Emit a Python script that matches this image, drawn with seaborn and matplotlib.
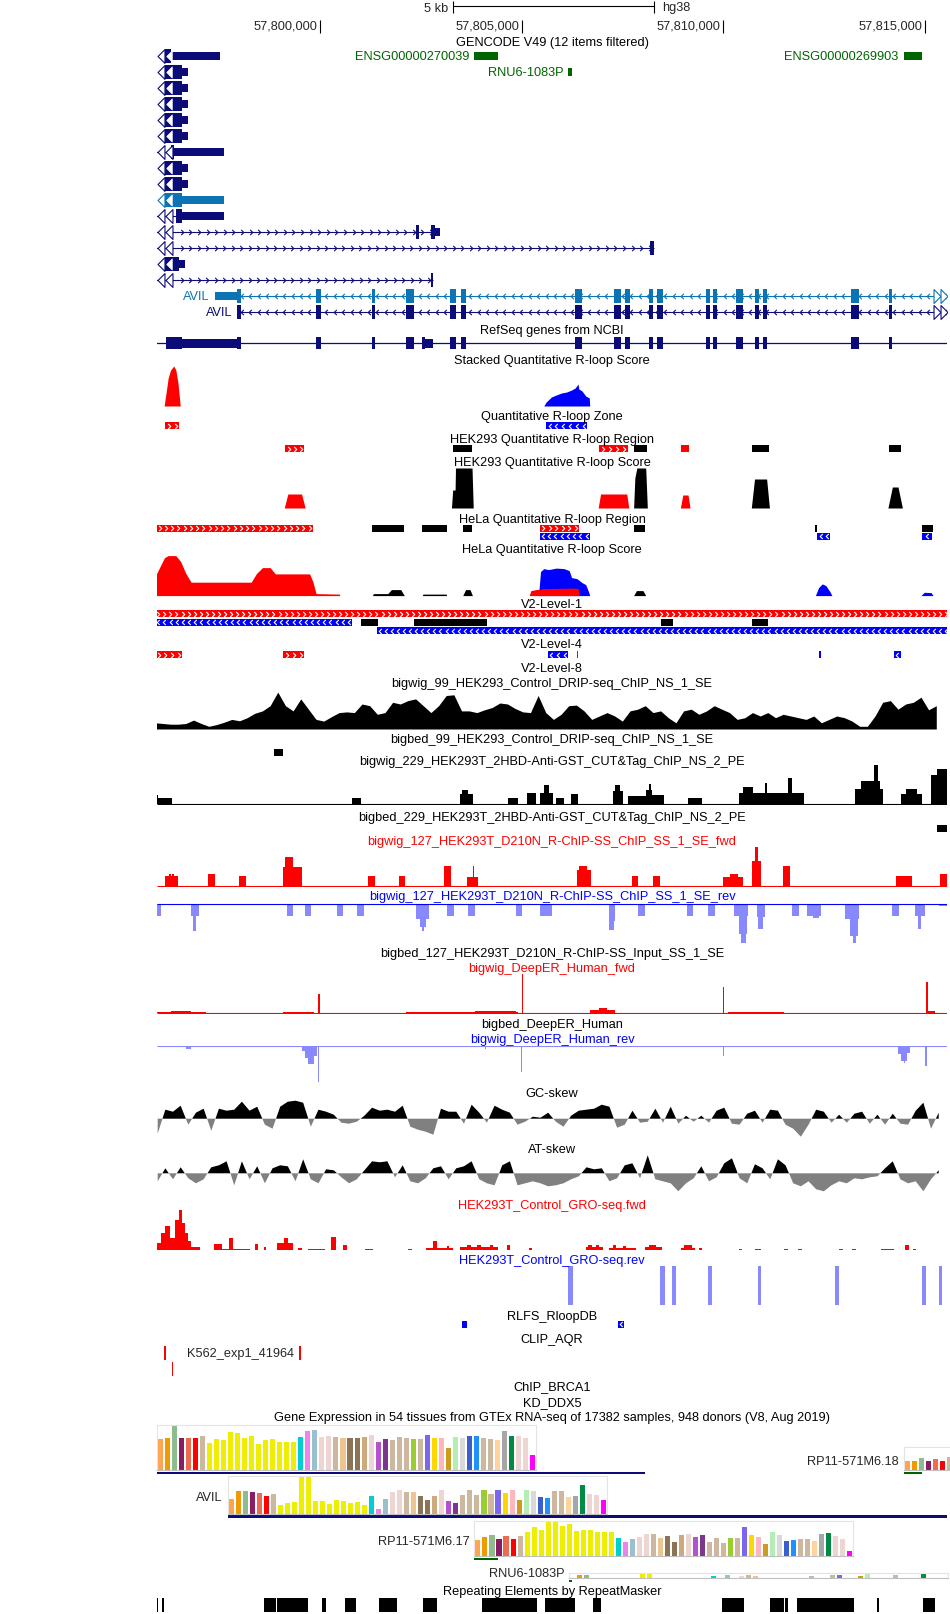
import numpy as np
import matplotlib
matplotlib.use("Agg")
import matplotlib.pyplot as plt
from matplotlib import font_manager
from matplotlib.path import Path
from matplotlib.transforms import blended_transform_factory
import seaborn as sns

# ---------------- browser window (kb on chr12, hg38) ----------------
WIN_START, WIN_END = 57795.943, 57815.546
ruler_ticks = [57800, 57805, 57810, 57815]
scalebar_start, scalebar_kb = 57803.28, 5

# ---------------- GENCODE V49 ----------------
avil_exons = [(57797.94, 57798.02), (57799.90, 57800.02), (57801.29, 57801.35),
              (57802.12, 57802.33), (57803.21, 57803.35), (57803.48, 57803.62),
              (57806.32, 57806.48), (57807.28, 57807.45), (57807.56, 57807.68),
              (57808.15, 57808.25), (57808.35, 57808.49), (57809.56, 57809.66),
              (57809.75, 57809.85), (57810.30, 57810.49), (57810.77, 57810.88),
              (57810.97, 57811.09), (57813.16, 57813.36), (57814.11, 57814.18)]
gencode_thick = [
    [(57796.14, 57796.30)], [(57796.14, 57796.56)], [(57796.14, 57796.56)],
    [(57796.14, 57796.56)], [(57796.14, 57796.56)], [(57796.14, 57796.56)],
    [(57796.30, 57796.36)], [(57796.14, 57796.56)], [(57796.14, 57796.56)],
    [(57796.14, 57796.56)], [(57796.41, 57796.56)],
    [(57802.37, 57802.45), (57802.75, 57802.85)], [(57808.18, 57808.27)],
    [(57796.14, 57796.50)], [(57802.74, 57802.79)], avil_exons, avil_exons]
gencode_utr = [
    [(57796.30, 57797.50)], [(57796.56, 57796.72)], [(57796.56, 57796.72)],
    [(57796.56, 57796.72)], [(57796.56, 57796.72)], [(57796.56, 57796.72)],
    [(57796.36, 57797.61)], [(57796.56, 57796.72)], [(57796.56, 57796.72)],
    [(57796.56, 57797.61)], [(57796.56, 57797.61)], [(57802.85, 57802.96)], [],
    [(57796.50, 57796.63)], [], [(57797.38, 57797.94)], []]
gencode_intron = [None, None, None, None, None, None, (57795.90, 57796.30), None, None,
                  None, (57795.90, 57796.41), (57795.90, 57802.85), (57795.90, 57808.27),
                  None, (57795.90, 57802.79), (57797.94, 57815.60), (57797.94, 57815.60)]
gencode_strand = ["-", "-", "-", "-", "-", "-", "-", "-", "-", "-", "-",
                  "+", "+", "-", "+", "-", "-"]
gencode_light = [False] * 9 + [True] + [False] * 5 + [True, False]
gencode_edge_thick = [True, True, True, True, True, True, False, True, True, True,
                      False, False, False, True, False]
gencode_named = [(0, "ENSG00000270039", 57803.82, 57804.40),
                 (0, "ENSG00000269903", 57814.47, 57814.92),
                 (1, "RNU6-1083P", 57806.15, 57806.24)]
avil_label_starts = [(15, 57797.38), (16, 57797.94)]

# ---------------- RefSeq (dense) ----------------
refseq_thick = [(57796.16, 57796.56), (57802.52, 57802.60)] + avil_exons
refseq_utr = [(57796.56, 57797.99), (57802.60, 57802.80)]

# ---------------- R-loop tracks ----------------
stacked_red_x = [57796.12, 57796.16, 57796.22, 57796.28, 57796.36, 57796.41, 57796.46, 57796.51, 57796.52]
stacked_red_y = [0, 11, 28, 36, 40, 36, 24, 4, 0]
stacked_blue_x = [57805.54, 57805.60, 57805.73, 57805.85, 57805.98, 57806.11, 57806.23,
                  57806.32, 57806.39, 57806.41, 57806.49, 57806.58, 57806.67, 57806.68]
stacked_blue_y = [0, 4, 9, 11, 13, 14, 16, 18, 22, 17, 15, 10, 8, 0]

zone_feats = [(57796.15, 57796.50, "red", "+"), (57805.60, 57806.62, "blue", "-")]
hek_region = [(57799.13, 57799.59, "red", "+"), (57803.28, 57803.76, "black", "."),
              (57806.91, 57807.63, "red", "+"), (57807.77, 57808.09, "black", "."),
              (57808.94, 57809.15, "red", "."), (57810.71, 57811.13, "black", "."),
              (57814.11, 57814.41, "black", ".")]
hek_red_peaks = [([57799.10, 57799.19, 57799.53, 57799.62], [0, 14, 14, 0]),
                 ([57806.89, 57806.95, 57807.60, 57807.65], [0, 14, 14, 0]),
                 ([57808.93, 57808.99, 57809.12, 57809.17], [0, 13, 13, 0])]
hek_black_peaks = [([57803.25, 57803.28, 57803.34, 57803.35, 57803.76, 57803.79], [0, 18, 18, 40, 40, 0]),
                   ([57807.77, 57807.80, 57807.85, 57808.07, 57808.11], [0, 30, 40, 40, 0]),
                   ([57810.69, 57810.77, 57811.07, 57811.14], [0, 29, 29, 0]),
                   ([57814.08, 57814.19, 57814.33, 57814.44], [0, 21, 21, 0])]

hela_region_1 = [(57795.93, 57799.81, "red", "+"), (57801.29, 57802.08, "black", "."),
                 (57802.53, 57803.13, "black", "."), (57803.53, 57803.77, "black", "."),
                 (57805.44, 57806.42, "red", "+"), (57807.77, 57808.05, "black", "."),
                 (57812.28, 57812.32, "black", "."), (57814.92, 57815.20, "black", ".")]
hela_region_2 = [(57805.44, 57806.68, "blue", "-"), (57812.33, 57812.64, "blue", "-"),
                 (57814.93, 57815.17, "blue", "-")]
hela_red_x = [57795.93, 57796.03, 57796.13, 57796.22, 57796.41, 57796.53, 57796.66, 57796.79,
              57798.28, 57798.41, 57798.56, 57798.75, 57798.88, 57799.73, 57799.81, 57799.89,
              57800.47, 57800.48]
hela_red_y = [21.7, 30, 38, 40, 40, 34, 22, 13.4, 13.4, 22, 28, 28, 21.7, 21.7, 14, 2, 1.5, 0]
hela_blue_peaks = [([57805.41, 57805.46, 57805.54, 57805.66, 57805.85, 57806.04, 57806.17,
                     57806.23, 57806.36, 57806.49, 57806.58, 57806.65, 57806.68],
                    [0, 24, 27, 26, 27.5, 27, 25, 18, 17, 13, 11, 4, 0]),
                   ([57812.28, 57812.36, 57812.45, 57812.54, 57812.64, 57812.69], [0, 8, 11.7, 10, 4, 0]),
                   ([57814.90, 57814.98, 57815.15, 57815.20], [0, 3.3, 3, 0])]
hela_red_under = ([57805.18, 57805.22, 57805.35, 57805.54, 57806.30, 57806.40, 57806.42],
                  [0, 5, 6, 7, 7.5, 7, 0])
hela_black_peaks = [([57801.29, 57801.31, 57801.67, 57801.76, 57801.99, 57802.08], [0, 2, 2, 6, 6, 0]),
                    ([57802.53, 57802.54, 57803.12, 57803.13], [0, 1.5, 1.5, 0]),
                    ([57803.53, 57803.60, 57803.71, 57803.77], [0, 6, 6, 0]),
                    ([57807.77, 57807.84, 57808.00, 57808.07], [0, 5, 5, 0])]

v2_level1 = [[(57795.90, 57815.60, "red", "+")],
             [(57795.90, 57800.78, "blue", "-"), (57801.01, 57801.42, "black", "."),
              (57802.33, 57804.12, "black", "."), (57808.45, 57808.75, "black", "."),
              (57810.71, 57811.10, "black", ".")],
             [(57801.39, 57815.60, "blue", "-")]]
v2_level4 = [(57795.90, 57796.57, "red", "+"), (57799.07, 57799.60, "red", "+"),
             (57805.64, 57806.15, "blue", "-"), (57806.36, 57806.39, "red", "."),
             (57812.37, 57812.41, "blue", "."), (57814.22, 57814.41, "blue", "-")]

# ---------------- signal tracks ----------------
drip_start, drip_step = 57795.90, 0.19
drip_vals = [6.2, 5.5, 4.8, 4.8, 5.5, 8.9, 5.5, 2.7, 4.4, 6.8,
             9.6, 8.2, 11.3, 15.7, 18.1, 23.3, 36.9, 23.3, 18.1, 30.1,
             19.8, 9.6, 7.9, 12.3, 16.4, 17.1, 16.4, 25, 23.3, 14.7,
             16.4, 26.7, 25, 28.4, 30.1, 23.3, 16.4, 23.3, 33.5, 34.2,
             18.1, 18.1, 16.4, 19.2, 21.5, 26, 25, 20.5, 17.1, 16.4,
             33.5, 16.4, 9.6, 14.7, 23.3, 23.9, 18.1, 9.6, 13, 16.4,
             13, 7.9, 18.1, 19.8, 23.3, 16.4, 18.1, 11.3, 6.2, 18.1,
             19.8, 14.7, 18.1, 23.3, 19.8, 16.4, 9.6, 11.3, 16.4, 13,
             16.4, 11.3, 14.7, 13, 11.3, 9.6, 13, 6.2, 9.6, 13,
             11.3, 7.9, 2.7, 2.7, 13, 26.7, 28.4, 19.8, 25, 26.7,
             31.8, 19.2, 23.3]
bigbed99 = [(57798.85, 57799.07, "black", ".")]
cut_tag = [(57795.93, 57796.31, 6.8), (57795.93, 57795.98, 10), (57800.78, 57801.00, 6.8),
           (57803.45, 57803.79, 11), (57803.51, 57803.66, 14.4), (57804.65, 57804.90, 6.8),
           (57805.12, 57805.35, 12), (57805.45, 57805.77, 12), (57805.54, 57805.66, 19.5),
           (57805.85, 57806.04, 6.8), (57806.21, 57806.39, 11), (57807.25, 57807.50, 14),
           (57807.31, 57807.44, 19.5), (57807.63, 57808.07, 8.5), (57808.07, 57808.23, 15),
           (57808.14, 57808.20, 20.5), (57808.23, 57808.52, 9.2), (57809.13, 57809.47, 6.8),
           (57810.39, 57812.00, 12), (57810.48, 57810.74, 18), (57811.03, 57811.09, 22),
           (57811.60, 57811.70, 27), (57813.27, 57813.97, 16), (57813.42, 57813.88, 24),
           (57813.73, 57813.83, 40), (57814.41, 57814.92, 11), (57814.54, 57814.79, 15.4),
           (57815.15, 57815.60, 30), (57815.30, 57815.60, 36)]
bigbed229 = [(57815.30, 57815.60, "black", ".")]
rchip_fwd = [(57796.13, 57796.47, 10), (57796.24, 57796.28, 12.4), (57796.32, 57796.36, 12.4),
             (57797.21, 57797.38, 12.4), (57797.97, 57798.14, 10), (57799.07, 57799.55, 19),
             (57799.13, 57799.32, 29), (57799.21, 57799.23, 39), (57801.19, 57801.35, 10),
             (57801.95, 57802.09, 10), (57803.06, 57803.25, 20.7), (57803.64, 57803.91, 9),
             (57803.78, 57803.80, 20), (57806.36, 57806.70, 16), (57806.42, 57806.61, 20.7),
             (57807.72, 57807.88, 10), (57808.26, 57808.43, 10), (57809.98, 57810.48, 9),
             (57810.17, 57810.36, 12.4), (57810.71, 57810.94, 25), (57810.77, 57810.86, 39),
             (57811.47, 57811.65, 20.7), (57814.29, 57814.67, 10), (57815.36, 57815.56, 12.4)]
rchip_rev = [(57795.93, 57796.03, 12.4), (57796.79, 57796.98, 12.4), (57796.83, 57796.91, 27.4),
             (57799.16, 57799.32, 12.4), (57799.62, 57799.77, 13), (57800.40, 57800.57, 13),
             (57800.91, 57801.07, 13), (57802.37, 57802.68, 15.7), (57802.46, 57802.62, 24),
             (57802.52, 57802.57, 27.4), (57803.15, 57803.31, 13), (57803.67, 57803.84, 13),
             (57804.84, 57804.99, 13), (57805.44, 57805.74, 12.4), (57805.56, 57805.58, 25),
             (57807.15, 57807.31, 17.4), (57807.16, 57807.28, 26.4), (57807.88, 57808.05, 13),
             (57809.10, 57809.25, 13), (57809.62, 57809.78, 13), (57810.27, 57810.61, 12.4),
             (57810.38, 57810.58, 30.8), (57810.44, 57810.56, 39.8), (57810.84, 57811.02, 14),
             (57810.86, 57810.99, 25.8), (57811.71, 57811.88, 13), (57812.07, 57812.42, 13),
             (57812.23, 57812.36, 15), (57813.02, 57813.37, 15.7), (57813.15, 57813.34, 32.4),
             (57813.21, 57813.30, 39.8), (57814.18, 57814.35, 13), (57814.76, 57815.01, 13),
             (57814.82, 57814.90, 25.8), (57815.35, 57815.60, 2.5)]
deeper_fwd = [(57795.90, 57797.17, 1), (57796.28, 57796.79, 2), (57799.07, 57799.83, 0.8),
              (57802.11, 57804.90, 0.8), (57803.83, 57804.84, 1.5), (57806.68, 57807.31, 2.5),
              (57806.90, 57807.10, 4.5), (57810.10, 57811.50, 0.8), (57815.08, 57815.25, 2),
              (57799.95, 57799.98, 19), (57804.99, 57805.02, 39), (57809.99, 57810.02, 26.8),
              (57815.03, 57815.07, 31.4)]
deeper_rev = [(57796.66, 57796.79, 2.7), (57799.55, 57799.62, 5), (57799.62, 57799.70, 12),
              (57799.70, 57799.85, 18.5), (57799.85, 57799.92, 10), (57799.94, 57799.97, 36.8),
              (57804.07, 57804.11, 3), (57804.97, 57805.00, 26), (57809.99, 57810.02, 10),
              (57814.33, 57814.40, 8), (57814.40, 57814.56, 15), (57814.47, 57814.51, 17),
              (57814.56, 57814.62, 7), (57815.01, 57815.04, 20)]
skew_start, skew_step = 57795.96, 0.19
gc_skew = [-15, 9, 7, 13, -6, 6, 10, -12, 10, 8,
           9, 17, 8, 12, -6, -10, 12, 17, 18, 16,
           -8, 9, 7, 4, -4, -5, -3, 3, 11, 8,
           9, 7, 13, -8, -11, -13, -16, 10, 7, 7,
           -5, 14, 6, -4, 13, 9, 6, -6, -3, 2,
           1, 6, -3, -8, 3, 8, 9, 10, 14, 12,
           -9, -6, 8, -4, -3, 10, -4, 12, -5, 3,
           -3, 3, -4, 8, 11, -5, -6, 5, 8, -4,
           9, 8, -6, -10, -18, -6, 9, 7, -4, 4,
           -4, 5, 7, -5, 4, -6, 5, -5, -6, 8,
           16, -10, 6]
at_skew = [-8, 5, -6, 6, -5, -10, -6, 6, 8, 12,
           -12, 12, -6, 7, -10, 5, 8, 7, -8, 14,
           -6, -10, 4, 3, -4, -10, -6, 3, 12, 11,
           12, -4, 8, -8, -10, -5, 5, 7, -6, 5,
           7, 12, -6, -10, -12, 8, 12, -12, -10, -8,
           -10, -13, -12, -10, -6, -3, 6, 4, 5, -8,
           -5, 8, 10, -5, 18, -6, -8, -10, -18, -10,
           -5, 7, -8, -4, 10, 15, -5, -10, 9, 5,
           -6, 14, 8, -10, -13, -8, -16, -18, -12, -8,
           -10, -5, -6, -4, -3, 5, 12, -6, -10, -8,
           -18, -6, 3]
gro_fwd = [(57795.93, 57796.03, 7.6), (57796.03, 57796.15, 17), (57796.15, 57796.26, 24),
           (57796.26, 57796.38, 12), (57796.38, 57796.48, 30), (57796.48, 57796.57, 40),
           (57796.57, 57796.64, 27), (57796.64, 57796.71, 17), (57796.71, 57796.79, 9),
           (57796.79, 57797.02, 3.5), (57797.36, 57797.55, 6), (57797.55, 57798.25, 1),
           (57797.74, 57797.84, 12.6), (57798.37, 57798.46, 6), (57798.61, 57798.66, 3),
           (57798.92, 57799.32, 7), (57799.10, 57799.20, 12.6), (57799.43, 57799.53, 2),
           (57799.70, 57800.11, 1.2), (57800.27, 57800.38, 13), (57800.57, 57800.67, 5.3),
           (57801.10, 57801.30, 1.7), (57802.18, 57802.27, 1.7), (57802.62, 57803.28, 2),
           (57802.80, 57802.89, 9), (57803.13, 57803.20, 4), (57803.45, 57804.40, 3),
           (57803.64, 57803.74, 5), (57803.89, 57803.99, 5), (57804.21, 57804.27, 5.5),
           (57804.62, 57804.70, 5), (57805.17, 57805.25, 2), (57806.58, 57807.00, 3),
           (57806.65, 57806.73, 5), (57806.84, 57806.92, 5.5), (57807.16, 57807.82, 2),
           (57807.25, 57807.33, 5), (57807.50, 57807.57, 4), (57808.05, 57808.48, 3),
           (57808.14, 57808.33, 5.3), (57808.94, 57809.29, 2), (57809.02, 57809.21, 5.3),
           (57809.38, 57809.46, 2), (57810.39, 57810.46, 1.7), (57810.77, 57810.94, 1.7),
           (57811.50, 57811.60, 1.7), (57811.85, 57811.95, 1.7), (57812.87, 57812.97, 1.7),
           (57813.20, 57813.30, 1.7), (57813.91, 57814.24, 1.7), (57814.50, 57814.60, 5),
           (57814.69, 57814.77, 1.7)]
gro_rev = [(57806.13, 57806.26, 39), (57808.42, 57808.54, 39), (57808.72, 57808.83, 39),
           (57809.62, 57809.72, 39), (57810.85, 57810.94, 39), (57812.76, 57812.87, 39),
           (57814.93, 57815.02, 39), (57815.35, 57815.43, 39)]
rlfs = [(57803.51, 57803.64, "blue", "-"), (57807.38, 57807.54, "blue", "-")]
clip_row1 = [(57796.12, 57796.16, "red", "."), (57799.46, 57799.51, "red", ".")]
clip_row2 = [(57796.31, 57796.34, "red", ".")]
repeats = [(57795.94, 57795.97), (57796.07, 57796.11), (57798.60, 57798.89), (57798.93, 57799.70),
           (57800.04, 57800.14), (57800.61, 57800.87), (57801.44, 57801.91), (57802.54, 57802.90),
           (57804.00, 57805.36), (57805.58, 57806.32), (57806.75, 57806.95), (57809.96, 57810.50),
           (57811.15, 57811.50), (57811.53, 57811.59), (57811.82, 57813.25), (57813.80, 57813.87),
           (57814.95, 57815.26)]

# ---------------- GTEx (V8) ----------------
tissues = ["Adipose - Subcutaneous", "Adipose - Visceral", "Adrenal Gland", "Artery - Aorta",
           "Artery - Coronary", "Artery - Tibial", "Bladder", "Brain - Amygdala",
           "Brain - Anterior cingulate cortex", "Brain - Caudate", "Brain - Cerebellar Hemisphere",
           "Brain - Cerebellum", "Brain - Cortex", "Brain - Frontal Cortex", "Brain - Hippocampus",
           "Brain - Hypothalamus", "Brain - Nucleus accumbens", "Brain - Putamen",
           "Brain - Spinal cord", "Brain - Substantia nigra", "Breast", "Cells - EBV lymphocytes",
           "Cells - Cultured fibroblasts", "Cervix - Ectocervix", "Cervix - Endocervix",
           "Colon - Sigmoid", "Colon - Transverse", "Esophagus - GE Junction", "Esophagus - Mucosa",
           "Esophagus - Muscularis", "Fallopian Tube", "Heart - Atrial Appendage",
           "Heart - Left Ventricle", "Kidney - Cortex", "Kidney - Medulla", "Liver", "Lung",
           "Minor Salivary Gland", "Muscle - Skeletal", "Nerve - Tibial", "Ovary", "Pancreas",
           "Pituitary", "Prostate", "Skin - Not Sun Exposed", "Skin - Sun Exposed",
           "Small Intestine", "Spleen", "Stomach", "Testis", "Thyroid", "Uterus", "Vagina",
           "Whole Blood"]
tissue_colors = ["#FFA54F", "#EE9A00", "#8FBC8F", "#8B1C62", "#EE6A50", "#FF0000", "#CDB79E",
                 "#EEEE00", "#EEEE00", "#EEEE00", "#EEEE00", "#EEEE00", "#EEEE00", "#EEEE00",
                 "#EEEE00", "#EEEE00", "#EEEE00", "#EEEE00", "#EEEE00", "#EEEE00", "#00CED1",
                 "#EE82EE", "#9AC0CD", "#EED5D2", "#EED5D2", "#CDB79E", "#EEC591", "#8B7355",
                 "#8B7355", "#CDAA7D", "#EED5D2", "#B452CD", "#7A378B", "#CDB79E", "#CDB79E",
                 "#CDB79E", "#9ACD32", "#CDB79E", "#7A67EE", "#FFD700", "#FFB6C1", "#CD9B1D",
                 "#B4EEB4", "#D9D9D9", "#3A5FCD", "#1E90FF", "#CDB79E", "#CDB79E", "#FFD39B",
                 "#A6A6A6", "#008B45", "#EED5D2", "#EED5D2", "#FF00FF"]
gtex_left = [31, 32, 45, 32, 32, 32, 34, 27, 31, 30, 38, 37, 32, 34, 26, 30, 31, 28, 28, 28,
             33, 39, 40, 33, 34, 33, 32, 32, 32, 33, 35, 28, 31, 30, 33, 32, 31, 31, 35, 32,
             32, 22, 33, 32, 34, 34, 32, 31, 30, 39, 34, 34, 32, 15]
gtex_avil = [15, 23, 23, 22, 21, 18, 20, 9, 11, 12, 37, 38, 13, 13, 10, 14, 13, 11, 12, 9,
             18, 5, 15, 22, 24, 22, 22, 18, 14, 18, 24, 13, 11, 19, 24, 19, 24, 20, 24, 21,
             24, 14, 24, 23, 17, 16, 23, 23, 17, 18, 29, 20, 19, 14]
gtex_rp17 = [16, 19, 21, 17, 20, 17, 20, 24, 29, 26, 35, 34, 30, 32, 25, 26, 26, 24, 24, 24,
             18, 14, 17, 19, 22, 22, 18, 20, 14, 21, 22, 19, 21, 14, 18, 13, 18, 18, 29, 21,
             19, 12, 24, 21, 15, 16, 17, 17, 15, 22, 23, 20, 17, 5]
gtex_rnu6 = [0, 3, 3, 0, 0, 0, 0, 0, 0, 0, 4, 4, 0, 0, 0, 0, 0, 0, 0, 0,
             2, 0, 3, 0, 2, 3, 2, 0, 0, 0, 0, 0, 0, 0, 2, 0, 0, 3, 3, 0,
             0, 2, 4.5, 0, 0, 0, 3, 0, 0, 0, 5, 0, 0, 0]
gtex_rp18 = [9, 9, 12, 9, 11, 9, 13]
gtex_names = ["", "RP11-571M6.18", "AVIL", "RP11-571M6.17", "RNU6-1083P"]
gtex_values = [gtex_left, gtex_rp18, gtex_avil, gtex_rp17, gtex_rnu6]
gtex_scale = [45.5, 23.5, 38, 35, 5.5]
gtex_gene_span = [(57795.50, 57808.05), (57814.47, 57814.92), (57797.70, 57815.60),
                  (57803.82, 57804.40), (57806.17, 57806.25)]
gtex_coding = [True, False, True, False, False]

# ---------------- style ----------------
sns.set_style("white")
_names = {f.name for f in font_manager.fontManager.ttflist}
if "Liberation Sans Narrow" in _names:
    FONT, FS = "Liberation Sans Narrow", 11
else:
    FONT, FS = "Liberation Sans", 9.2
plt.rcParams["font.family"] = [FONT, "DejaVu Sans"]
plt.rcParams["lines.solid_capstyle"] = "butt"

NAVY, LBLUE, GREEN = "#0c0c78", "#0c74b4", "#006400"
PALEBLUE, GRAY = "#8888ff", "#808080"

FW, FH = 950, 1615
DL, DR = 157, 947
CX = (DL + DR) / 2

CHEV_R = Path([(-0.5, 1.0), (0.5, 0.0), (-0.5, -1.0)], [Path.MOVETO, Path.LINETO, Path.LINETO])
CHEV_L = Path([(0.5, 1.0), (-0.5, 0.0), (0.5, -1.0)], [Path.MOVETO, Path.LINETO, Path.LINETO])
TRI_L = Path([(0.5, 1.0), (-0.5, 0.0), (0.5, -1.0), (0.5, 1.0)],
             [Path.MOVETO, Path.LINETO, Path.LINETO, Path.CLOSEPOLY])
TRI_R = Path([(-0.5, 1.0), (0.5, 0.0), (-0.5, -1.0), (-0.5, 1.0)],
             [Path.MOVETO, Path.LINETO, Path.LINETO, Path.CLOSEPOLY])

fig = plt.figure(figsize=(FW / 100, FH / 100), dpi=100)
fig.patch.set_facecolor("white")


def track(top, bottom, ylim=(0, 1)):
    ax = fig.add_axes([DL / FW, 1 - bottom / FH, (DR - DL) / FW, (bottom - top) / FH])
    ax.set_xlim(WIN_START, WIN_END)
    ax.set_ylim(*ylim)
    ax.axis("off")
    return ax


def title(y, text, color="black"):
    fig.text(CX / FW, 1 - y / FH, text, ha="center", va="center", fontsize=FS, color=color)


def chevrons(ax, start, end, y, strand, color, step, ms):
    n = int((end - start) / step)
    if n < 1 or strand not in "+-":
        return
    xs = start + (np.arange(n) + 0.5) * (end - start) / n
    ax.plot(xs, np.full(n, y), ls="none", marker=CHEV_R if strand == "+" else CHEV_L,
            ms=ms, mec=color, mfc="none", mew=0.8, zorder=4)


def bed_row(y, feats, h=7):
    ax = track(y - h / 2, y + h / 2)
    for start, end, color, strand in feats:
        ax.barh(0.5, end - start, left=start, height=1, color=color, linewidth=0)
        if end - start >= 0.1:
            chevrons(ax, start, end, 0.5, strand, "white", 0.15, 3.6)
    return ax


def area(ax, xs, ys, color):
    ax.fill_between(xs, ys, 0, color=color, linewidth=0)


def blocks(ax, data, color, down=False):
    s = np.array([d[0] for d in data])
    e = np.array([d[1] for d in data])
    h = np.array([d[2] for d in data])
    ax.bar(s, -h if down else h, width=e - s, align="edge", color=color, linewidth=0)


# ---------------- ruler ----------------
ax = track(0, 40, (40, 0))
ax.hlines(7, scalebar_start, scalebar_start + scalebar_kb, color="black", lw=0.8)
ax.vlines([scalebar_start, scalebar_start + scalebar_kb], 1.5, 13.5, color="black", lw=0.8)
ax.annotate("5 kb", (scalebar_start, 8.5), xytext=(-4, 0), textcoords="offset pixels",
            ha="right", va="center", fontsize=FS, annotation_clip=False)
ax.annotate("hg38", (scalebar_start + scalebar_kb, 8.5), xytext=(8, 0), textcoords="offset pixels",
            ha="left", va="center", fontsize=FS, annotation_clip=False)
ax.vlines(ruler_ticks, 20.5, 34, color="black", lw=0.8)
for t in ruler_ticks:
    ax.annotate(f"{t * 1000:,.0f}", (t, 26.5), xytext=(-3, 0), textcoords="offset pixels",
                ha="right", va="center", fontsize=FS, annotation_clip=False)
ax_ref = ax

# ---------------- GENCODE ----------------
title(43, "GENCODE V49 (12 items filtered)")
for i in range(17):
    y = 57 + 16.03 * i
    ax = track(y - 8, y + 8, (-8, 8))
    col = LBLUE if gencode_light[i] else NAVY
    if gencode_intron[i] is not None:
        a, b = gencode_intron[i]
        ax.hlines(0, a, b, color=col, lw=0.8)
        chevrons(ax, max(a, 57796.45), b, 0, gencode_strand[i], col, 0.21, 3.8)
    for a, b in gencode_utr[i]:
        ax.barh(0, b - a, left=a, height=8, color=col, linewidth=0, zorder=3)
    for a, b in gencode_thick[i]:
        ax.barh(0, b - a, left=a, height=14, color=col, linewidth=0, zorder=3)
    tr = blended_transform_factory(ax.transAxes, ax.transData)
    if i < 15:
        ax.plot([0.0055], [0], transform=tr, ls="none", marker=TRI_L, ms=10, mfc="white",
                mec=col, mew=0.8, zorder=5)
        if gencode_edge_thick[i]:
            ax.plot([0.0155], [0], transform=tr, ls="none", marker=TRI_L, ms=8, mfc="white",
                    mec="white", mew=0.5, zorder=5)
        else:
            ax.plot([0.0155], [0], transform=tr, ls="none", marker=TRI_L, ms=10, mfc="white",
                    mec=col, mew=0.8, zorder=5)
    else:
        for fx in (0.987, 0.996):
            ax.plot([fx], [0], transform=tr, ls="none", marker=TRI_R, ms=10, mfc="white",
                    mec=col, mew=0.8, zorder=5)
    for row, name, a, b in gencode_named:
        if row == i:
            ax.barh(0, b - a, left=a, height=8, color=GREEN, linewidth=0, zorder=3)
            ax.annotate(name, (a, 0), xytext=(-5, 0), textcoords="offset pixels", ha="right",
                        va="center", fontsize=FS, color=GREEN, annotation_clip=False)
    for row, a in avil_label_starts:
        if row == i:
            ax.annotate("AVIL", (a, 0), xytext=(-5, 0), textcoords="offset pixels", ha="right",
                        va="center", fontsize=FS, color=col, annotation_clip=False)

# ---------------- RefSeq ----------------
title(331, "RefSeq genes from NCBI")
ax = track(337, 351, (-7, 7))
ax.hlines(0, WIN_START - 1, WIN_END + 1, color=NAVY, lw=0.9)
for a, b in refseq_utr:
    ax.barh(0, b - a, left=a, height=9, color=NAVY, linewidth=0)
for a, b in refseq_thick:
    ax.barh(0, b - a, left=a, height=12, color=NAVY, linewidth=0)

# ---------------- R-loop score / region tracks ----------------
title(361, "Stacked Quantitative R-loop Score")
ax = track(367, 407, (0, 40))
area(ax, stacked_red_x, stacked_red_y, "red")
area(ax, stacked_blue_x, stacked_blue_y, "blue")

title(417, "Quantitative R-loop Zone")
bed_row(426.5, zone_feats)

title(440, "HEK293 Quantitative R-loop Region")
bed_row(449.5, hek_region)

title(463, "HEK293 Quantitative R-loop Score")
ax = track(469, 509, (0, 40))
for xs, ys in hek_red_peaks:
    area(ax, xs, ys, "red")
for xs, ys in hek_black_peaks:
    area(ax, xs, ys, "black")

title(519.5, "HeLa Quantitative R-loop Region")
bed_row(529, hela_region_1)
bed_row(537, hela_region_2)

title(550.5, "HeLa Quantitative R-loop Score")
ax = track(556.6, 596.6, (0, 40))
area(ax, hela_red_x, hela_red_y, "red")
for xs, ys in hela_blue_peaks:
    area(ax, xs, ys, "blue")
area(ax, *hela_red_under, "red")
for xs, ys in hela_black_peaks:
    area(ax, xs, ys, "black")

title(605, "V2-Level-1")
for y, feats in zip([614.5, 623, 631.5], v2_level1):
    bed_row(y, feats)
title(645.5, "V2-Level-4")
bed_row(655.5, v2_level4)
title(669.3, "V2-Level-8")

# ---------------- DRIP / CUT&Tag / R-ChIP ----------------
title(684, "bigwig_99_HEK293_Control_DRIP-seq_ChIP_NS_1_SE")
ax = track(690, 730, (0, 40))
area(ax, drip_start + drip_step * np.arange(len(drip_vals)), drip_vals, "black")
title(740, "bigbed_99_HEK293_Control_DRIP-seq_ChIP_NS_1_SE")
bed_row(753, bigbed99)

title(762.5, "bigwig_229_HEK293T_2HBD-Anti-GST_CUT&Tag_ChIP_NS_2_PE")
ax = track(766, 806, (-0.6, 40))
blocks(ax, cut_tag, "black")
ax.axhline(0, color="black", lw=0.8)
title(818.3, "bigbed_229_HEK293T_2HBD-Anti-GST_CUT&Tag_ChIP_NS_2_PE")
bed_row(829, bigbed229)

title(842, "bigwig_127_HEK293T_D210N_R-ChIP-SS_ChIP_SS_1_SE_fwd", "red")
ax = track(847.5, 887.5, (-0.6, 40))
blocks(ax, rchip_fwd, "red")
ax.axhline(0, color="red", lw=0.8)

title(897.5, "bigwig_127_HEK293T_D210N_R-ChIP-SS_ChIP_SS_1_SE_rev", "blue")
ax = track(904, 944, (-40, 0.6))
blocks(ax, rchip_rev, PALEBLUE, down=True)
ax.axhline(0, color="blue", lw=0.8)
title(954, "bigbed_127_HEK293T_D210N_R-ChIP-SS_Input_SS_1_SE")

title(969, "bigwig_DeepER_Human_fwd", "red")
ax = track(974.5, 1014.5, (-0.6, 40))
blocks(ax, deeper_fwd, "red")
ax.axhline(0, color="red", lw=0.8)
title(1025, "bigbed_DeepER_Human")
title(1040, "bigwig_DeepER_Human_rev", "blue")
ax = track(1046.5, 1086.5, (-40, 0.6))
blocks(ax, deeper_rev, PALEBLUE, down=True)
ax.axhline(0, color=PALEBLUE, lw=0.8)

# ---------------- skew ----------------
for y0, y, name, vals in [(1094.5, 1119.7, "GC-skew", gc_skew), (1150, 1174.3, "AT-skew", at_skew)]:
    title(y0, name)
    ax = track(y - 19, y + 19, (-19, 19))
    xs = skew_start + skew_step * np.arange(len(vals))
    v = np.array(vals, dtype=float)
    ax.fill_between(xs, v, 0, where=v >= 0, interpolate=True, color="black", linewidth=0)
    ax.fill_between(xs, v, 0, where=v <= 0, interpolate=True, color=GRAY, linewidth=0)

# ---------------- GRO-seq ----------------
title(1205.5, "HEK293T_Control_GRO-seq.fwd", "red")
ax = track(1211.4, 1251.4, (0, 40))
blocks(ax, gro_fwd, "red")
title(1261.5, "HEK293T_Control_GRO-seq.rev", "blue")
ax = track(1267, 1306, (-39, 0))
blocks(ax, gro_rev, PALEBLUE, down=True)

title(1317, "RLFS_RloopDB")
bed_row(1325, rlfs)
title(1340.5, "CLIP_AQR")
ax = bed_row(1354, clip_row1, h=14)
ax.annotate("K562_exp1_41964", (clip_row1[1][0], 0.5), xytext=(-5, 0), textcoords="offset pixels",
            ha="right", va="center", fontsize=FS, annotation_clip=False)
bed_row(1370, clip_row2, h=14)
title(1387.5, "ChIP_BRCA1")
title(1403, "KD_DDX5")

# ---------------- GTEx ----------------
title(1418.5, "Gene Expression in 54 tissues from GTEx RNA-seq of 17382 samples, 948 donors (V8, Aug 2019)")
gtex_bottom = [1471, 1471, 1514.5, 1557, 1579]
for name, vals, scale, (a, b), coding, bottom in zip(gtex_names, gtex_values, gtex_scale,
                                                     gtex_gene_span, gtex_coding, gtex_bottom):
    lc = NAVY if coding else GREEN
    lax = track(bottom + 1.5, bottom + 4, (0, 1))
    lax.barh(0.5, b - a, left=a, height=1, color=lc, linewidth=0)
    left_px = max(ax_ref.transData.transform((a, 0))[0], DL)
    gax = fig.add_axes([left_px / FW, 1 - bottom / FH, 379 / FW, scale / FH])
    n = len(vals)
    sns.barplot(x=tissues[:n], y=vals, hue=tissues[:n], order=tissues[:n], hue_order=tissues[:n],
                palette=tissue_colors[:n], legend=False, ax=gax, width=0.72, saturation=1,
                errorbar=None, linewidth=0)
    gax.set_xlim(-0.5, 53.5)
    gax.set_ylim(0, scale)
    gax.set(xticks=[], yticks=[], xlabel="", ylabel="")
    for sp in ("top", "left", "right"):
        gax.spines[sp].set_color("#e4e4e4")
        gax.spines[sp].set_linewidth(0.8)
    gax.spines["bottom"].set_color("#c0c0c0")
    gax.spines["bottom"].set_linewidth(0.8)
    if name:
        fig.text((left_px - 5) / FW, 1 - (bottom - max(scale / 2, 8) + 3) / FH, name,
                 ha="right", va="center", fontsize=FS)

# ---------------- RepeatMasker ----------------
title(1592, "Repeating Elements by RepeatMasker")
bed_row(1605.6, [(a, b, "black", ".") for a, b in repeats], h=14)

fig.savefig("out.png", dpi=100, facecolor="white")
